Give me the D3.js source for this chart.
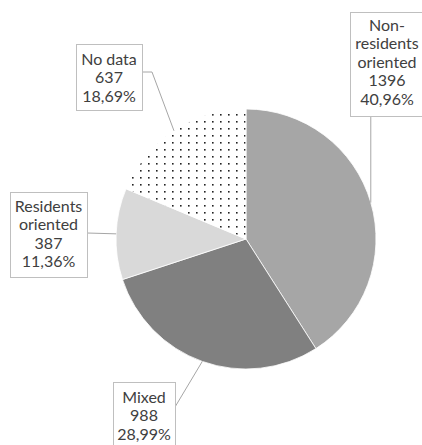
<!DOCTYPE html>
<html><head><meta charset="utf-8">
<script src="https://cdn.jsdelivr.net/npm/d3@7"></script>
<style>body{margin:0;background:#fff}svg{display:block}</style>
</head><body>
<script>
const categories = ["Non-residents oriented", "Mixed", "Residents oriented", "No data"];
const labelLines = [["Non-","residents","oriented"], ["Mixed"], ["Residents","oriented"], ["No data"]];
const counts = [1396, 988, 387, 637];
const percents = ["40,96%", "28,99%", "11,36%", "18,69%"];
const fills = ["#a6a6a6", "#808080", "#d9d9d9", "url(#dots)"];

const W = 422, H = 445, cx = 246, cy = 239, R = 130;
const svg = d3.select("body").append("svg").attr("width", W).attr("height", H);
const defs = svg.append("defs");
const pat = defs.append("pattern").attr("id","dots").attr("patternUnits","userSpaceOnUse")
  .attr("width",8).attr("height",7).attr("x",cx).attr("y",cy);
pat.append("rect").attr("width",8).attr("height",7).attr("fill","#fff");
pat.append("rect").attr("x",0).attr("y",0).attr("width",1.6).attr("height",1.6).attr("fill","#222");

const data = categories.map((c,i)=>({c, lines: labelLines[i], n: counts[i], p: percents[i], fill: fills[i]}));
const pie = d3.pie().value(d=>d.n).sort(null);
const arcs = pie(data);
const arc = d3.arc().innerRadius(0).outerRadius(R);
const g = svg.append("g").attr("transform",`translate(${cx},${cy})`);
g.selectAll("path").data(arcs).join("path").attr("d",arc).attr("fill",d=>d.data.fill)
  .attr("stroke","#fff").attr("stroke-width",0.8);

const boxes = [
  {x:350, y:12, w:76, h:104, tx:387, ty:25, from:"bottom"},
  {x:113, y:382, w:62, h:80, tx:144, ty:397, from:"right", ay:407},
  {x:10, y:192, w:77, h:85, tx:48.5, ty:206, from:"right", ay:233},
  {x:76, y:44, w:66, h:66, tx:109, ty:59, from:"right", ay:72, elbow:152}
];
const lh = 18.5;
arcs.forEach((a,i)=>{
  const b = boxes[i];
  const mid = (a.startAngle + a.endAngle)/2;
  const px = cx + R*Math.sin(mid), py = cy - R*Math.cos(mid);
  let pts;
  if (b.from === "bottom") pts = [[px, b.y+b.h],[px, py]];
  else if (b.elbow) pts = [[b.x+b.w, b.ay],[b.elbow, b.ay],[px, py]];
  else pts = [[b.x+b.w, b.ay],[px, py]];
  svg.append("path").attr("d", d3.line()(pts)).attr("fill","none")
    .attr("stroke","#a6a6a6").attr("stroke-width",1);
  svg.append("rect").attr("x",b.x+0.5).attr("y",b.y+0.5).attr("width",b.w).attr("height",b.h)
    .attr("fill","#fff").attr("stroke","#bfbfbf").attr("stroke-width",1);
  const lines = a.data.lines.concat([String(a.data.n), a.data.p]);
  const t = svg.append("text").attr("font-family","Lato, 'Open Sans', sans-serif").attr("font-size",16)
    .attr("fill","#404040").attr("text-anchor","middle");
  lines.forEach((l,j)=>t.append("tspan").attr("x",b.tx).attr("y",b.ty + j*lh).attr("dy","0.35em").text(l));
});
</script>
</body></html>
